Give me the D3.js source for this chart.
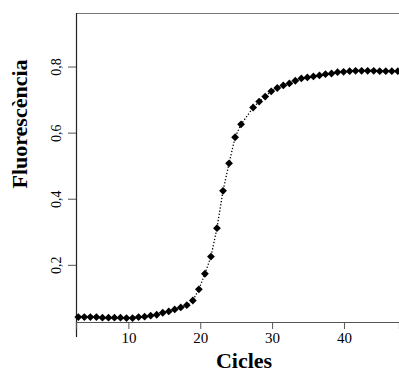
<!DOCTYPE html>
<html lang="ca">
<head>
<meta charset="UTF-8">
<title>Fluorescència vs Cicles</title>
<script src="https://d3js.org/d3.v7.min.js"></script>
<style>
  body { margin: 0; background: #fff; }
  text { font-family: "Liberation Serif", "Times New Roman", serif; fill: #000; }
</style>
</head>
<body>
<svg width="399" height="374"></svg>
<script>
// lectures (cicle, fluorescència) llegides del gràfic
var cycles = [3.03, 3.87, 4.71, 5.55, 6.39, 7.23, 8.06, 8.90, 9.74, 10.58,
              11.42, 12.26, 13.10, 13.94, 14.78, 15.62, 16.45, 17.29, 18.13, 18.97,
              19.81, 20.65, 21.49, 22.33, 23.17, 24.01, 24.85, 25.68, 27.36, 28.20,
              29.04, 29.88, 30.72, 31.56, 32.40, 33.23, 34.07, 34.91, 35.75, 36.59,
              37.43, 38.27, 39.11, 39.95, 40.79, 41.62, 42.46, 43.30, 44.14, 44.98,
              45.82, 46.66, 47.50];
var fluor = [0.042, 0.042, 0.042, 0.042, 0.040, 0.040, 0.040, 0.040, 0.039, 0.039,
             0.042, 0.043, 0.046, 0.049, 0.055, 0.059, 0.065, 0.071, 0.078, 0.092,
             0.126, 0.173, 0.225, 0.311, 0.424, 0.507, 0.586, 0.625, 0.676, 0.694,
             0.709, 0.725, 0.735, 0.743, 0.749, 0.757, 0.764, 0.767, 0.770, 0.773,
             0.777, 0.779, 0.783, 0.784, 0.786, 0.787, 0.787, 0.787, 0.787, 0.786,
             0.786, 0.786, 0.786];
var xTicks = [10, 20, 30, 40];
var yTicks = [0.2, 0.4, 0.6, 0.8];

var svg = d3.select("svg");
var mLeft = 76, mRight = 399, mTop = 13, mBottom = 322;

var x = d3.scaleLinear().domain([2.71, 47.66]).range([mLeft, mRight]);
var y = d3.scaleLinear().domain([0.027, 0.962]).range([mBottom, mTop]);

var pts = cycles.map(function(c, i) { return [c, fluor[i]]; });

// marc
svg.append("line").attr("x1", mLeft).attr("x2", mRight).attr("y1", mTop + 0.5).attr("y2", mTop + 0.5)
   .attr("stroke", "#777").attr("stroke-width", 1.2);
svg.append("line").attr("x1", mLeft + 0.5).attr("x2", mLeft + 0.5).attr("y1", mTop).attr("y2", 337)
   .attr("stroke", "#222").attr("stroke-width", 1.2);

// eix x
var xAxis = svg.append("g").attr("transform", "translate(0," + mBottom + ")")
   .call(d3.axisBottom(x).tickValues(xTicks).tickSize(7).tickPadding(3));
xAxis.select(".domain").attr("stroke", "#555").attr("stroke-width", 1.2);
xAxis.selectAll(".tick line").attr("stroke", "#555");
xAxis.selectAll(".tick text").attr("font-size", 15).attr("font-family", "Liberation Serif").attr("fill", "#000");

// eix y
var yAxis = svg.append("g").attr("transform", "translate(" + mLeft + ",0)")
   .call(d3.axisLeft(y).tickValues(yTicks).tickSize(8).tickFormat(function(d) {
       return d3.format(".1f")(d).replace(".", ",");
   }));
yAxis.select(".domain").remove();
yAxis.selectAll(".tick line").attr("stroke", "#555");
yAxis.selectAll(".tick text")
   .attr("font-size", 14).attr("font-family", "Liberation Serif").attr("fill", "#000")
   .attr("x", null).attr("dy", null)
   .attr("text-anchor", "middle")
   .attr("transform", "translate(-15,0) rotate(-90)");

// línia de punts
svg.append("path").datum(pts)
   .attr("fill", "none").attr("stroke", "#000").attr("stroke-width", 1.3)
   .attr("stroke-dasharray", "1.3,1.9")
   .attr("d", d3.line().x(function(d) { return x(d[0]); }).y(function(d) { return y(d[1]); }));

// marcadors en rombe
var r = 3.9;
svg.append("g").selectAll("path.m").data(pts).enter().append("path")
   .attr("class", "m")
   .attr("fill", "#000")
   .attr("d", function(d) {
       var cx = x(d[0]), cy = y(d[1]);
       return "M" + cx + "," + (cy - r) + "L" + (cx + r) + "," + cy + "L" + cx + "," + (cy + r) + "L" + (cx - r) + "," + cy + "Z";
   });

// títols dels eixos
svg.append("text").attr("x", 244).attr("y", 368).attr("text-anchor", "middle")
   .attr("font-size", 22).attr("font-weight", "bold").text("Cicles");
svg.append("text").attr("transform", "translate(27,124) rotate(-90)").attr("text-anchor", "middle")
   .attr("font-size", 22).attr("font-weight", "bold").text("Fluorescència");
</script>
</body>
</html>
